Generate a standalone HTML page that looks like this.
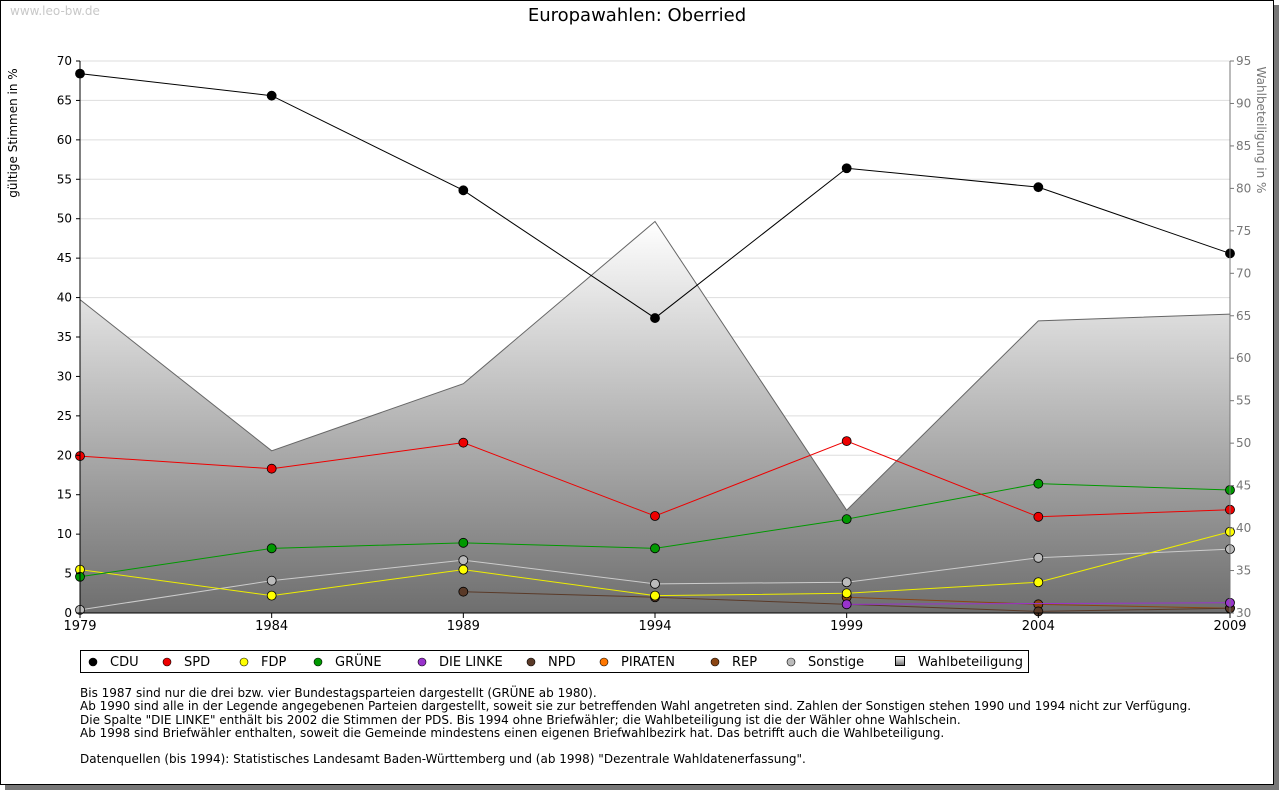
<!DOCTYPE html>
<html><head><meta charset="utf-8"><style>
body{margin:0;background:#fff;font-family:"DejaVu Sans","Liberation Sans",sans-serif;}
#wrap{position:relative;width:1280px;height:791px;overflow:hidden;}
#frame{position:absolute;left:0;top:0;width:1272px;height:783px;border:1px solid #000;background:#fff;box-shadow:5px 5px 0 #777;}
.note{position:absolute;left:80px;top:687px;font-size:12px;line-height:13.3px;color:#000;}
svg text{font-family:"DejaVu Sans","Liberation Sans",sans-serif;}
</style></head><body>
<div id="wrap">
<div id="frame"></div>
<svg id="chart" width="1280" height="791" style="position:absolute;left:0;top:0">
<defs><linearGradient id="g" x1="0" y1="0" x2="0" y2="1"><stop offset="0" stop-color="#fff"/><stop offset="1" stop-color="#6e6e6e"/></linearGradient></defs>
<text x="10" y="15" font-size="12" fill="#c8c8c8">www.leo-bw.de</text>
<text x="637" y="21" font-size="18" text-anchor="middle">Europawahlen: Oberried</text>
<text transform="translate(17,133) rotate(-90)" font-size="12" text-anchor="middle">gültige Stimmen in %</text>
<text transform="translate(1257,130) rotate(90)" font-size="12" fill="#777" text-anchor="middle">Wahlbeteiligung in %</text>
<g id="grid"></g><g id="area"></g><g id="lines"></g><g id="axes"></g>
</svg>
<svg width="950" height="24" style="position:absolute;left:80px;top:650px">
<rect x="0.5" y="0.5" width="948" height="22" fill="#fff" stroke="#000"/><g id="leg"></g></svg>
<div class="note">Bis 1987 sind nur die drei bzw. vier Bundestagsparteien dargestellt (GRÜNE ab 1980).<br>Ab 1990 sind alle in der Legende angegebenen Parteien dargestellt, soweit sie zur betreffenden Wahl angetreten sind. Zahlen der Sonstigen stehen 1990 und 1994 nicht zur Verfügung.<br>Die Spalte "DIE LINKE" enthält bis 2002 die Stimmen der PDS. Bis 1994 ohne Briefwähler; die Wahlbeteiligung ist die der Wähler ohne Wahlschein.<br>Ab 1998 sind Briefwähler enthalten, soweit die Gemeinde mindestens einen eigenen Briefwahlbezirk hat. Das betrifft auch die Wahlbeteiligung.<br><br>Datenquellen (bis 1994): Statistisches Landesamt Baden-Württemberg und (ab 1998) "Dezentrale Wahldatenerfassung".</div>
</div>
<script>
const years=[1979,1984,1989,1994,1999,2004,2009];
const leftTicks=[0,5,10,15,20,25,30,35,40,45,50,55,60,65,70];
const rightTicks=[30,35,40,45,50,55,60,65,70,75,80,85,90,95];
const turnout=[66.9,49.1,57.0,76.1,42.1,64.4,65.2];
const cdu=[68.4,65.6,53.6,37.4,56.4,54.0,45.6];
const spd=[19.9,18.3,21.6,12.3,21.8,12.2,13.1];
const fdp=[5.5,2.2,5.5,2.2,2.5,3.9,10.3];
const gruene=[4.6,8.2,8.9,8.2,11.9,16.4,15.6];
const linke=[null,null,null,null,1.1,null,1.3];
const npd=[null,null,2.7,2.0,null,0.2,0.6];
const piraten=[null,null,null,null,null,null,null];
const rep=[null,null,null,null,2.0,1.1,0.6];
const sonst=[0.4,4.1,6.7,3.7,3.9,7.0,8.1];
const seriesNames=["CDU","SPD","FDP","GRÜNE","DIE LINKE","NPD","PIRATEN","REP","Sonstige"];
const seriesData=[cdu,spd,fdp,gruene,linke,npd,piraten,rep,sonst];
const colors=["#000","#e00","#ff0","#090","#93c","#5a3a28","#f70","#8b4513","#bbb"];
const lineColors=["#000","#e00","#ee0","#090","#93c","#5a3a28","#f70","#8b4513","#ccc"];
const NS="http://www.w3.org/2000/svg";
const X0=80,X1=1230,Y0=613,Y1=61;
const x=i=>X0+(years[i]-1979)/(2009-1979)*(X1-X0);
const yl=v=>Y0-v/70*(Y0-Y1);
const yr=v=>Y0-(v-30)/65*(Y0-Y1);
function mk(t,a,p){const e=document.createElementNS(NS,t);for(const k in a)e.setAttribute(k,a[k]);p.appendChild(e);return e;}
const grid=document.getElementById('grid'),axes=document.getElementById('axes'),area=document.getElementById('area'),lines=document.getElementById('lines');
leftTicks.forEach(v=>{const l=mk('line',{x1:X0,x2:X1,y1:yl(v),y2:yl(v),stroke:'#ddd'},grid);

const t=mk('text',{x:72,y:yl(v)+4,'font-size':12,'text-anchor':'end'},axes);t.textContent=v;

mk('line',{x1:X0-4,x2:X0,y1:yl(v),y2:yl(v),stroke:'#000'},axes);});
rightTicks.forEach(v=>{const t=mk('text',{x:1236,y:yr(v)+4,'font-size':12,fill:'#777'},axes);t.textContent=v;

mk('line',{x1:X1,x2:X1+4,y1:yr(v),y2:yr(v),stroke:'#777'},axes);});
let d='M'+X0+','+Y0;years.forEach((y,i)=>d+=' L'+x(i)+','+yr(turnout[i]));d+=' L'+X1+','+Y0+'Z';
const ar=mk('path',{d:d,fill:'url(#g)'},area);
let d2='';years.forEach((y,i)=>d2+=(i?' L':'M')+x(i)+','+yr(turnout[i]));
mk('path',{d:d2,fill:'none',stroke:'#666'},area);
mk('line',{x1:X0,x2:X0,y1:Y1,y2:Y0,stroke:'#000'},axes);
mk('line',{x1:X1,x2:X1,y1:Y1,y2:Y0,stroke:'#777'},axes);
mk('line',{x1:X0,x2:X1,y1:Y0,y2:Y0,stroke:'#000'},axes);
years.forEach((y,i)=>{mk('line',{x1:x(i),x2:x(i),y1:Y0,y2:Y0+5,stroke:'#000'},axes);
const t=mk('text',{x:x(i),y:Y0+17,'font-size':13,'text-anchor':'middle'},axes);t.textContent=y;
});
const order=[8,7,6,5,4,2,3,1,0];
order.forEach(s=>{const arr=seriesData[s];let pts=[];arr.forEach((v,i)=>{if(v!=null)pts.push([x(i),yl(v)]);});
if(pts.length>1){const p=mk('polyline',{points:pts.map(q=>q.join(',')).join(' '),fill:'none',stroke:lineColors[s],'stroke-width':1},lines);
}
pts.forEach(q=>{const m=mk('circle',{cx:q[0],cy:q[1],r:4.5,fill:colors[s],stroke:'#000','stroke-width':0.8},lines);
});});
const leg=document.getElementById('leg');
const legX=[13,87,164,238,342,451,524,635,711];
seriesNames.forEach((n,i)=>{const lx=legX[i];
const m=mk('circle',{cx:lx,cy:12,r:4,fill:colors[i],stroke:'#000','stroke-width':0.6},leg);

const t=mk('text',{x:lx+17,y:16,'font-size':13},leg);t.textContent=n;
});
mk('rect',{x:815.5,y:6.5,width:9,height:9,fill:'url(#g)',stroke:'#000'},leg);
const wt=mk('text',{x:838,y:16,'font-size':13},leg);wt.textContent='Wahlbeteiligung';

</script>
</body></html>
